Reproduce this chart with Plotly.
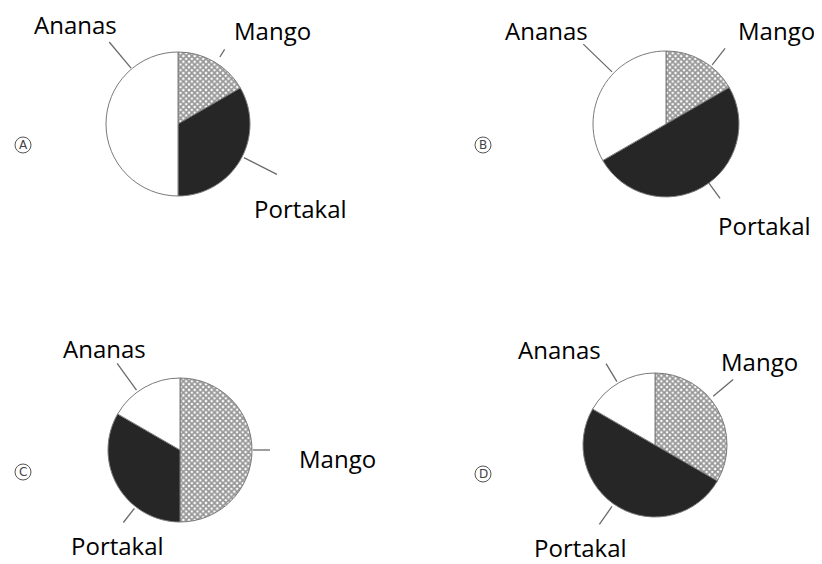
import math
import plotly.graph_objects as go

# the page body keeps an 8px margin, so the figure is drawn 8px in from the corner
OFF = 8
W, H = 822 - OFF, 564 - OFF

fruits = ["Mango", "Portakal", "Ananas"]
panels = ["A", "B", "C", "D"]
shares = {
    "A": [1 / 6, 1 / 3, 1 / 2],
    "B": [1 / 6, 1 / 2, 1 / 3],
    "C": [1 / 2, 1 / 3, 1 / 6],
    "D": [1 / 3, 1 / 2, 1 / 6],
}

# pie placement in page pixels: centre x, centre y, radius
pie_pos = {"A": (178, 124, 72), "B": (666, 124, 73), "C": (180, 450, 72), "D": (655, 445, 72)}
# leader lines: angle (deg clockwise from 12 o'clock), inner dist, outer dist
leaders = {
    "A": [(32, 79, 88), (117, 74, 111), (320, 73, 107)],
    "B": [(38, 75, 96), (144, 73, 92), (314, 75, 115)],
    "C": [(90, 73, 90), (218, 74, 92), (324, 74, 107)],
    "D": [(50, 76, 102), (215, 75, 97), (329, 74, 95)],
}
# label centres in page pixels
label_pos = {
    "A": [(272, 31), (300, 209), (75, 24)],
    "B": [(776, 31), (764, 225), (546, 31)],
    "C": [(337, 458), (117, 545), (104, 348)],
    "D": [(759, 361), (580, 547), (559, 349)],
}
badge_pos = {"A": (23, 145), "B": (483, 145), "C": (23, 472), "D": (483, 474)}

colors = ["white", "#262626", "white"]


def px(x):
    return (x - OFF) / W


def py(y):
    return 1 - (y - OFF) / H


fig = go.Figure()
shapes = []
annotations = []
for p in panels:
    cx, cy, r = pie_pos[p]
    fig.add_trace(go.Pie(
        labels=fruits,
        values=shares[p],
        sort=False,
        direction="clockwise",
        rotation=0,
        textinfo="none",
        hoverinfo="label+percent",
        showlegend=False,
        domain=dict(x=[px(cx - r), px(cx + r)], y=[py(cy + r), py(cy - r)]),
        marker=dict(
            colors=colors,
            line=dict(color="#7a7a7a", width=1),
            pattern=dict(shape=["x", "", ""], size=4, solidity=0.7,
                         fgcolor="#2e2e2e", bgcolor="white", fillmode="overlay"),
        ),
    ))
    for ang, r0, r1 in leaders[p]:
        a = math.radians(ang)
        shapes.append(dict(
            type="line", xref="paper", yref="paper",
            x0=px(cx + r0 * math.sin(a)), y0=py(cy - r0 * math.cos(a)),
            x1=px(cx + r1 * math.sin(a)), y1=py(cy - r1 * math.cos(a)),
            line=dict(color="#6a6a6a", width=1.3),
        ))
    for name, (lx, ly) in zip(fruits, label_pos[p]):
        annotations.append(dict(
            text=name, x=px(lx), y=py(ly), xref="paper", yref="paper",
            showarrow=False, xanchor="center", yanchor="middle",
            font=dict(family="Open Sans", size=24, color="black"),
        ))
    bx, by = badge_pos[p]
    shapes.append(dict(
        type="circle", xref="paper", yref="paper",
        x0=px(bx - 8), x1=px(bx + 8), y0=py(by + 8), y1=py(by - 8),
        line=dict(color="#555555", width=1),
    ))
    annotations.append(dict(
        text=p, x=px(bx), y=py(by), xref="paper", yref="paper",
        showarrow=False, xanchor="center", yanchor="middle",
        font=dict(family="DejaVu Sans", size=12, color="#444444"),
    ))

fig.update_layout(
    width=W, height=H,
    margin=dict(l=0, r=0, t=0, b=0),
    paper_bgcolor="white", plot_bgcolor="white",
    shapes=shapes, annotations=annotations,
)

fig.write_html("out.html")
